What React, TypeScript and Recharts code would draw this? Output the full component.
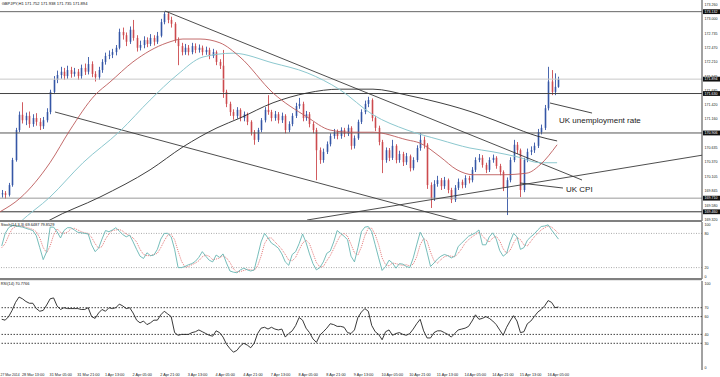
import React from 'react'
import { ComposedChart, Bar, Line, XAxis, YAxis, ReferenceLine } from 'recharts'

// GBPJPY H1, 27 Mar - 16 Apr 2014. One candle = 2 hours, x unit = 1 hour bar.
const opens = [
  169.78, 169.80, 169.77, 169.95, 170.41, 170.96, 171.24, 171.14, 171.22, 171.07,
  171.18, 171.11, 171.03, 171.14, 171.29, 171.66, 171.88, 171.97, 172.03, 171.95,
  172.06, 171.99, 172.03, 171.95, 172.10, 172.03, 172.17, 171.99, 171.93, 172.06,
  172.21, 172.32, 172.34, 172.39, 172.47, 172.76, 172.70, 172.58, 172.80, 172.65,
  172.47, 172.52, 172.61, 172.54, 172.65, 172.58, 172.69, 172.94, 173.09, 172.98,
  172.91, 172.61, 172.50, 172.39, 172.47, 172.39, 172.50, 172.43, 172.47, 172.39,
  172.43, 172.32, 172.39, 172.21, 172.14, 171.66, 171.44, 171.29, 171.22, 171.33,
  171.18, 171.25, 171.11, 170.92, 170.78, 170.96, 171.14, 171.33, 171.29, 171.18,
  171.25, 171.14, 171.22, 170.96, 171.07, 171.22, 171.40, 171.44, 171.18, 171.25,
  171.07, 170.96, 170.59, 170.41, 170.56, 170.70, 170.85, 170.92, 170.85, 170.96,
  170.89, 171.00, 170.67, 170.81, 171.11, 171.29, 171.44, 171.51, 171.18, 171.00,
  170.74, 170.41, 170.59, 170.45, 170.67, 170.41, 170.52, 170.37, 170.48, 170.26,
  170.41, 170.63, 170.78, 170.69, 169.95, 169.71, 169.97, 170.04, 169.93, 170.04,
  169.86, 169.68, 169.90, 170.01, 169.95, 170.08, 170.04, 170.23, 170.41, 170.45,
  170.32, 170.23, 170.41, 170.45, 170.30, 170.19, 169.90, 170.04, 170.41, 170.69,
  170.59, 169.86, 170.41, 170.56, 170.59, 170.67, 170.92, 171.00, 171.36, 171.85,
  171.66, 171.752,
]
const highs = [
  169.86, 169.84, 169.99, 170.45, 171.00, 171.30, 171.47, 171.28, 171.30, 171.25,
  171.27, 171.18, 171.20, 171.36, 171.70, 171.95, 172.05, 172.12, 172.10, 172.14,
  172.12, 172.10, 172.08, 172.16, 172.18, 172.30, 172.22, 172.04, 172.12, 172.26,
  172.38, 172.42, 172.45, 172.52, 172.82, 172.84, 172.75, 172.86, 172.98, 172.70,
  172.60, 172.68, 172.66, 172.72, 172.70, 172.76, 173.00, 173.13, 173.12, 173.04,
  172.94, 172.66, 172.56, 172.54, 172.52, 172.56, 172.55, 172.53, 172.51, 172.49,
  172.47, 172.45, 172.42, 172.26, 172.43, 171.70, 171.48, 171.34, 171.38, 171.36,
  171.30, 171.28, 171.14, 170.96, 171.00, 171.18, 171.38, 171.60, 171.33, 171.31,
  171.29, 171.28, 171.25, 171.12, 171.27, 171.46, 171.55, 171.48, 171.31, 171.29,
  171.11, 171.00, 170.64, 170.62, 170.75, 170.90, 170.98, 170.97, 171.01, 171.00,
  171.06, 171.03, 170.86, 171.15, 171.34, 171.50, 171.57, 171.54, 171.22, 171.04,
  170.78, 170.64, 170.63, 170.78, 170.70, 170.58, 170.56, 170.54, 170.51, 170.46,
  170.68, 170.90, 170.84, 170.72, 170.00, 170.04, 170.12, 170.08, 170.10, 170.07,
  169.90, 169.95, 170.07, 170.05, 170.13, 170.12, 170.28, 170.46, 170.52, 170.50,
  170.36, 170.46, 170.51, 170.48, 170.34, 170.22, 170.09, 170.46, 170.78, 170.74,
  170.62, 170.45, 170.62, 170.66, 170.73, 170.98, 171.06, 171.42, 172.12, 172.06,
  172.00, 171.938,
]
const lows = [
  169.72, 169.70, 169.74, 169.92, 170.38, 170.92, 171.08, 171.05, 171.00, 171.02,
  171.04, 170.96, 170.98, 171.10, 171.25, 171.62, 171.82, 171.90, 171.88, 171.90,
  171.92, 171.94, 171.88, 171.90, 171.97, 171.98, 171.93, 171.85, 171.88, 172.01,
  172.16, 172.26, 172.28, 172.33, 172.44, 172.62, 172.50, 172.54, 172.60, 172.40,
  172.42, 172.46, 172.48, 172.50, 172.51, 172.54, 172.66, 172.90, 172.92, 172.84,
  172.56, 172.15, 172.33, 172.34, 172.33, 172.35, 172.37, 172.38, 172.33, 172.34,
  172.26, 172.28, 172.15, 172.08, 171.55, 171.38, 171.22, 171.15, 171.17, 171.12,
  171.12, 171.05, 170.86, 170.69, 170.74, 170.92, 171.10, 171.24, 171.12, 171.13,
  171.08, 171.09, 170.90, 170.92, 171.03, 171.18, 171.35, 171.12, 171.13, 171.01,
  170.90, 170.04, 170.34, 170.36, 170.52, 170.66, 170.80, 170.79, 170.80, 170.83,
  170.85, 170.60, 170.62, 170.78, 171.07, 171.25, 171.38, 171.12, 170.94, 170.68,
  170.17, 170.36, 170.39, 170.41, 170.35, 170.36, 170.30, 170.32, 170.20, 170.22,
  170.37, 170.58, 170.62, 169.88, 169.53, 169.66, 169.92, 169.86, 169.88, 169.80,
  169.62, 169.64, 169.86, 169.89, 169.90, 169.98, 170.00, 170.19, 170.37, 170.27,
  170.17, 170.19, 170.36, 170.25, 170.13, 169.84, 169.40, 170.00, 170.37, 170.52,
  169.73, 169.82, 170.37, 170.50, 170.54, 170.63, 170.88, 170.96, 171.32, 171.60,
  171.60, 171.735,
]
const closes = [
  169.80, 169.77, 169.95, 170.41, 170.96, 171.24, 171.14, 171.22, 171.07, 171.18,
  171.11, 171.03, 171.14, 171.29, 171.66, 171.88, 171.97, 172.03, 171.95, 172.06,
  171.99, 172.03, 171.95, 172.10, 172.03, 172.17, 171.99, 171.93, 172.06, 172.21,
  172.32, 172.34, 172.39, 172.47, 172.76, 172.70, 172.58, 172.80, 172.65, 172.47,
  172.52, 172.61, 172.54, 172.65, 172.58, 172.69, 172.94, 173.09, 172.98, 172.91,
  172.61, 172.50, 172.39, 172.47, 172.39, 172.50, 172.43, 172.47, 172.39, 172.43,
  172.32, 172.39, 172.21, 172.14, 171.66, 171.44, 171.29, 171.22, 171.33, 171.18,
  171.25, 171.11, 170.92, 170.78, 170.96, 171.14, 171.33, 171.29, 171.18, 171.25,
  171.14, 171.22, 170.96, 171.07, 171.22, 171.40, 171.44, 171.18, 171.25, 171.07,
  170.96, 170.59, 170.41, 170.56, 170.70, 170.85, 170.92, 170.85, 170.96, 170.89,
  171.00, 170.67, 170.81, 171.11, 171.29, 171.44, 171.51, 171.18, 171.00, 170.74,
  170.41, 170.59, 170.45, 170.67, 170.41, 170.52, 170.37, 170.48, 170.26, 170.41,
  170.63, 170.78, 170.69, 169.95, 169.71, 169.97, 170.04, 169.93, 170.04, 169.86,
  169.68, 169.90, 170.01, 169.95, 170.08, 170.04, 170.23, 170.41, 170.45, 170.32,
  170.23, 170.41, 170.45, 170.30, 170.19, 169.90, 170.04, 170.41, 170.69, 170.59,
  169.86, 170.41, 170.56, 170.59, 170.67, 170.92, 171.00, 171.36, 171.85, 171.66,
  171.752, 171.894,
]

// moving averages, [hour index, price]
const fastMa = [
  [0, 169.46], [11.6, 169.71], [28.9, 170.36], [40.5, 170.96], [54.9, 171.60], [63.6, 171.84],
  [76.9, 172.21], [96.6, 172.56], [105.8, 172.63], [115.7, 172.63], [127.2, 172.56], [138.8, 172.30],
  [157.9, 171.64], [177.6, 171.20], [190.9, 170.96], [202.4, 170.92], [215.7, 170.92], [235.4, 170.78],
  [242.9, 170.72], [254.5, 170.47], [264.3, 170.23], [273.6, 170.14], [290.9, 170.14], [304.8, 170.17],
  [312.3, 170.32], [322.2, 170.69],
]
const slowMa = [
  [5.8, 169.09], [11.6, 169.27], [28.9, 169.73], [48.0, 170.36], [69.4, 170.94], [86.8, 171.51],
  [102.4, 171.97], [117.4, 172.30], [134.8, 172.37], [157.9, 172.19], [177.6, 172.01], [196.6, 171.70],
  [215.7, 171.24], [235.4, 170.96], [254.5, 170.78], [271.8, 170.63], [285.1, 170.56], [299.0, 170.47],
  [312.3, 170.36], [322.2, 170.36],
]
const longMa = [
  [17.4, 169.09], [28.9, 169.31], [57.8, 169.73], [86.8, 170.23], [105.8, 170.65], [125.5, 171.00],
  [138.8, 171.18], [157.9, 171.46], [177.6, 171.64], [196.6, 171.71], [215.7, 171.71], [235.4, 171.60],
  [254.5, 171.46], [266.0, 171.36], [277.6, 171.24], [295.0, 171.03], [310.6, 170.85], [322.2, 170.76],
]

// trend lines and pointers, [[t1, p1], [t2, p2]]
const trendLines = [
  [[95.4, 173.144], [336.6, 170.043]],
  [[31.8, 171.291], [266.0, 169.291]],
  [[177.6, 169.309], [406, 170.498]],
]
const pointers = [
  [[318.1, 171.456], [342.4, 171.272]],
  [[300.8, 169.988], [325.6, 169.896]],
]
const noteTexts = ['UK unemployment rate', 'UK CPI']

const resistanceLevels = [173.132, 171.63, 170.906, 169.71, 169.46]
const lastPrice = 171.894
const priceTicks = [
  173.26, 173.132, 173.0, 172.735, 172.47, 172.21, 171.945, 171.894, 171.685, 171.63, 171.42,
  171.16, 170.906, 170.635, 170.37, 170.105, 169.845, 169.71, 169.58, 169.46, 169.32,
]

const stochK = [
  58, 80, 90, 94, 93, 92, 91, 89, 87, 85, 76, 55, 34, 48, 91, 91, 83, 72, 85, 90,
  90, 86, 82, 81, 80, 79, 60, 48, 54, 70, 85, 83, 86, 90, 84, 78, 74, 77, 65, 52,
  40, 36, 46, 41, 42, 52, 70, 80, 80, 74, 52, 20, 20, 22, 25, 27, 31, 38, 48, 40,
  33, 30, 42, 38, 44, 28, 14, 12, 11, 16, 19, 16, 14, 16, 40, 65, 80, 72, 63, 59,
  54, 44, 30, 24, 43, 48, 62, 79, 64, 44, 27, 16, 20, 30, 45, 49, 65, 85, 80, 75,
  69, 40, 30, 55, 83, 91, 92, 83, 60, 37, 15, 22, 33, 28, 19, 27, 26, 22, 20, 37,
  60, 82, 71, 47, 22, 28, 35, 40, 43, 41, 37, 40, 57, 63, 69, 75, 78, 81, 86, 60,
  60, 74, 81, 70, 50, 40, 45, 65, 80, 74, 52, 55, 68, 74, 79, 86, 92, 93, 95, 86,
  78, 70,
]
const stochD = [
  55, 62, 76, 88, 92, 93, 92, 91, 89, 87, 83, 72, 55, 46, 58, 77, 88, 82, 80, 82,
  88, 89, 86, 83, 81, 80, 73, 62, 54, 57, 70, 79, 85, 86, 87, 84, 79, 76, 72, 65,
  52, 43, 41, 41, 43, 45, 55, 67, 77, 78, 69, 49, 31, 21, 22, 25, 28, 32, 39, 42,
  40, 34, 35, 37, 41, 37, 29, 18, 12, 13, 15, 17, 16, 15, 23, 40, 62, 72, 72, 65,
  59, 52, 43, 33, 32, 38, 51, 63, 68, 62, 45, 29, 21, 22, 32, 41, 53, 66, 77, 80,
  75, 61, 46, 42, 56, 76, 89, 89, 78, 60, 37, 25, 23, 28, 27, 25, 24, 25, 23, 26,
  39, 60, 71, 67, 47, 32, 28, 34, 39, 41, 40, 39, 45, 53, 63, 69, 74, 78, 82, 76,
  69, 65, 72, 75, 67, 53, 45, 50, 63, 73, 69, 60, 58, 66, 74, 80, 86, 90, 93, 91,
  86, 80,
]
const rsi = [
  57, 56, 60, 67, 76, 82, 80, 77, 75, 75, 69, 66, 67, 73, 80, 81, 72, 68, 70, 69,
  69, 69, 69, 68, 68, 70, 60, 58, 64, 68, 66, 70, 69, 70, 74, 72, 69, 70, 64, 56,
  53, 55, 51, 53, 56, 56, 62, 66, 63, 60, 42, 39, 40, 40, 40, 42, 43, 45, 43, 41,
  39, 38, 44, 42, 37, 29, 24, 20, 22, 27, 30, 28, 25, 30, 41, 47, 48, 46, 48, 46,
  45, 46, 37, 41, 44, 50, 59, 56, 47, 42, 35, 31, 39, 43, 47, 52, 51, 49, 49, 48,
  42, 41, 45, 59, 65, 69, 66, 50, 43, 40, 34, 43, 45, 39, 41, 42, 40, 39, 41, 46,
  52, 57, 44, 36, 36, 42, 44, 44, 42, 40, 37, 41, 45, 46, 47, 49, 55, 62, 57, 58,
  60, 58, 55, 51, 45, 39, 48, 55, 61, 55, 42, 43, 52, 55, 60, 65, 68, 72, 78, 76,
  70, 70.78,
]
const stochLevels = [20, 80]
const rsiLevels = [30, 40, 60, 70]

const timeTicks = [
  0, 11.5, 27.5, 43.5, 59.5, 75.5, 91.5, 107.5, 123.5, 139.5, 155.5, 171.5, 187.5, 203.5,
  219.5, 235.5, 251.5, 267.5, 283.5, 299.5, 315.5,
]
const timeLabels = [
  '27 Mar 2014', '28 Mar 13:00', '31 Mar 05:00', '31 Mar 21:00', '1 Apr 13:00', '2 Apr 05:00',
  '2 Apr 21:00', '3 Apr 13:00', '4 Apr 05:00', '4 Apr 21:00', '7 Apr 13:00', '8 Apr 05:00',
  '8 Apr 21:00', '9 Apr 13:00', '10 Apr 05:00', '10 Apr 21:00', '11 Apr 13:00', '14 Apr 05:00',
  '14 Apr 21:00', '15 Apr 13:00', '16 Apr 05:00',
]

const T_MAX = 406
const PRICE_DOMAIN = [169.291, 173.346]
const FONT = '"Liberation Sans", Arial, sans-serif'
const BULL = '#3556a6'
const BEAR = '#cc4a4e'

const candles = opens.map((o, k) => ({
  t: 2 * k + 1,
  o,
  h: highs[k],
  l: lows[k],
  c: closes[k],
  range: [lows[k], highs[k]],
}))
const toRows = (pts: number[][]) => pts.map(([t, v]) => ({ t, v }))
const oscRows = stochK.map((k, i) => ({ t: 2 * i + 1, k, d: stochD[i], rsi: rsi[i] }))

function Candle(props: any) {
  const { x, y, width, height, payload } = props
  if (!payload || x == null) return null
  const top = Math.min(y, y + height)
  const bot = Math.max(y, y + height)
  const span = payload.h - payload.l || 1
  const py = (v: number) => top + ((payload.h - v) / span) * (bot - top)
  const cx = Math.round(x + width / 2)
  const col = payload.c >= payload.o ? BULL : BEAR
  const yo = py(payload.o)
  const yc = py(payload.c)
  return (
    <g>
      <line x1={cx + 0.5} x2={cx + 0.5} y1={top} y2={bot} stroke={col} strokeWidth={0.9} />
      <rect x={cx - 0.3} y={Math.min(yo, yc)} width={1.6} height={Math.max(Math.abs(yo - yc), 1)} fill={col} />
    </g>
  )
}

function PriceTick(props: any) {
  const { x, y, payload } = props
  const v = payload.value
  const marked = resistanceLevels.includes(v) || v === lastPrice
  return (
    <g>
      {marked && <rect x={x} y={y - 2.4} width={17} height={4.8} fill="#111" />}
      <text x={x + 1.5} y={y + 1.3} fontSize={3.6} fontFamily={FONT} fill={marked ? '#fff' : '#222'}>
        {v.toFixed(3)}
      </text>
    </g>
  )
}

function OscTick(props: any) {
  const { x, y, payload } = props
  const v = payload.value
  const dy = v === 100 ? 2.2 : v === 0 ? -2.6 : 0
  return (
    <text x={x + 1.5} y={y + dy + 1.3} fontSize={3.6} fontFamily={FONT} fill="#222">
      {v}
    </text>
  )
}

function TimeTick(props: any) {
  const { x, y, payload } = props
  const i = timeTicks.indexOf(payload.value)
  return (
    <text x={i === 0 ? x + 0.5 : x + 2} y={y + 6.4} fontSize={i === 0 ? 3.4 : 3.8} fontFamily={FONT} fill="#222">
      {timeLabels[i]}
    </text>
  )
}

const rightAxis = { stroke: '#444' }

export default function App() {
  return (
    <div style={{ position: 'fixed', left: 0, top: 0, width: 720, height: 377, background: '#fff', overflow: 'hidden' }}>
      <div style={{ position: 'absolute', left: 0, top: 0 }}>
        <ComposedChart width={720} height={221} data={candles} margin={{ top: 0, right: 0, bottom: 0, left: 0 }}>
          <XAxis type="number" dataKey="t" domain={[0, T_MAX]} hide allowDataOverflow />
          <YAxis
            orientation="right"
            domain={PRICE_DOMAIN}
            allowDataOverflow
            width={18}
            ticks={priceTicks}
            interval={0}
            tick={<PriceTick />}
            tickLine={false}
            tickSize={0}
            tickMargin={1}
            axisLine={rightAxis}
          />
          <ReferenceLine y={resistanceLevels[0]} stroke="#666" />
          <ReferenceLine y={lastPrice} stroke="#c8c8c8" />
          <ReferenceLine y={resistanceLevels[1]} stroke="#444" />
          <ReferenceLine y={resistanceLevels[2]} stroke="#555" />
          <ReferenceLine y={resistanceLevels[3]} stroke="#999" />
          <ReferenceLine y={resistanceLevels[4]} stroke="#333" />
          {trendLines.map((s, i) => (
            <ReferenceLine
              key={'tl' + i}
              segment={[{ x: s[0][0], y: s[0][1] }, { x: s[1][0], y: s[1][1] }]}
              stroke="#3a3a3a"
              strokeWidth={0.9}
              ifOverflow="hidden"
            />
          ))}
          {pointers.map((s, i) => (
            <ReferenceLine
              key={'pt' + i}
              segment={[{ x: s[0][0], y: s[0][1] }, { x: s[1][0], y: s[1][1] }]}
              stroke="#333"
              strokeWidth={0.9}
              ifOverflow="hidden"
            />
          ))}
          <Line data={toRows(longMa)} dataKey="v" type="monotone" stroke="#2a2a2a" strokeWidth={0.9} dot={false} isAnimationActive={false} />
          <Line data={toRows(slowMa)} dataKey="v" type="monotone" stroke="#8cc8cf" strokeWidth={1} dot={false} isAnimationActive={false} />
          <Line data={toRows(fastMa)} dataKey="v" type="monotone" stroke="#bc5a5a" strokeWidth={0.9} dot={false} isAnimationActive={false} />
          <Bar dataKey="range" shape={Candle} barSize={2} isAnimationActive={false} />
        </ComposedChart>
      </div>

      <div style={{ position: 'absolute', left: 0, top: 222 }}>
        <ComposedChart width={720} height={57} data={oscRows} margin={{ top: 0, right: 0, bottom: 0, left: 0 }}>
          <XAxis type="number" dataKey="t" domain={[0, T_MAX]} hide allowDataOverflow />
          <YAxis
            orientation="right"
            domain={[0, 100]}
            width={18}
            ticks={[0, 20, 80, 100]}
            interval={0}
            tick={<OscTick />}
            tickLine={false}
            tickSize={0}
            tickMargin={1}
            axisLine={rightAxis}
          />
          {stochLevels.map((v) => (
            <ReferenceLine key={v} y={v} stroke="#aaa" strokeDasharray="1 1.5" />
          ))}
          <Line dataKey="d" type="linear" stroke="#e06a6a" strokeWidth={0.9} strokeDasharray="1 1" dot={false} isAnimationActive={false} />
          <Line dataKey="k" type="linear" stroke="#66b5b2" strokeWidth={0.9} dot={false} isAnimationActive={false} />
        </ComposedChart>
      </div>

      <div style={{ position: 'absolute', left: 0, top: 281 }}>
        <ComposedChart width={720} height={96} data={oscRows} margin={{ top: 0, right: 0, bottom: 0, left: 0 }}>
          <XAxis
            type="number"
            dataKey="t"
            domain={[0, T_MAX]}
            allowDataOverflow
            ticks={timeTicks}
            interval={0}
            tick={<TimeTick />}
            tickLine={false}
            axisLine={false}
            tickSize={0}
            tickMargin={0}
            height={7}
          />
          <YAxis
            orientation="right"
            domain={[0, 100]}
            width={18}
            ticks={[0, 30, 40, 60, 70, 100]}
            interval={0}
            tick={<OscTick />}
            tickLine={false}
            tickSize={0}
            tickMargin={1}
            axisLine={rightAxis}
          />
          {rsiLevels.map((v) => (
            <ReferenceLine key={v} y={v} stroke="#444" strokeDasharray="1.5 1.5" />
          ))}
          <Line dataKey="rsi" type="linear" stroke="#222" strokeWidth={0.9} dot={false} isAnimationActive={false} />
        </ComposedChart>
      </div>

      <svg width={720} height={377} style={{ position: 'absolute', left: 0, top: 0, pointerEvents: 'none' }}>
        <rect x={0} y={220} width={702} height={2} fill="#808080" />
        <rect x={0} y={278} width={702} height={2.2} fill="#808080" />
        <text x={1.7} y={5.3} fontSize={4.1} fontFamily={FONT} fill="#111">
          GBPJPY,H1  171.752 171.938 171.735 171.894
        </text>
        <text x={0.8} y={226.3} fontSize={3.9} fontFamily={FONT} fill="#111">
          Stoch(14,3,3) 69.6487 79.8529
        </text>
        <text x={0.8} y={284.8} fontSize={3.9} fontFamily={FONT} fill="#111">
          RSI(14) 70.7766
        </text>
        <text x={559} y={123} fontSize={8} fontFamily={FONT} fill="#222">
          {noteTexts[0]}
        </text>
        <text x={566} y={192} fontSize={8} fontFamily={FONT} fill="#222">
          {noteTexts[1]}
        </text>
      </svg>
    </div>
  )
}
